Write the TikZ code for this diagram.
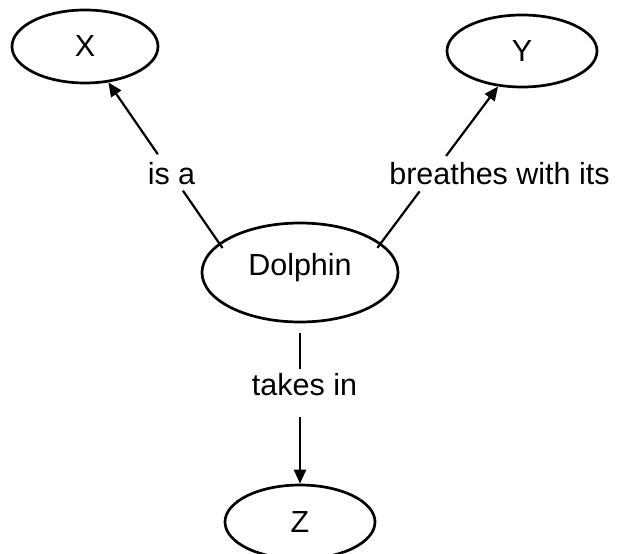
\documentclass[tikz,border=0pt]{standalone}
\usepackage{fontspec}
\setmainfont{Liberation Sans}
\usetikzlibrary{shapes.geometric,arrows.meta,calc}
\tikzset{
  concept/.style={draw=black, ellipse, line width=2.7pt, inner sep=0pt},
  conn/.style={draw=black, line width=2.2pt},
  arr/.style={conn, -{Triangle[length=14pt,width=12pt]}},
  lbl/.style={inner sep=0pt, anchor=base}
}
\begin{document}
\begin{tikzpicture}[x=1pt,y=1pt,font=\fontsize{30.5}{36}\selectfont]
\useasboundingbox (0,0) rectangle (617,-553);
% concept nodes
\node[concept, minimum width=146pt, minimum height=73pt] (x) at (85,-46.5) {X};
\node[concept, minimum width=150pt, minimum height=72pt] (y) at (522,-51) {Y};
\node[concept, minimum width=196pt, minimum height=99pt, text height=21.8pt, text depth=16.8pt] (dolphin) at (300,-272.5) {Dolphin};
\node[concept, minimum width=150pt, minimum height=74pt] (z) at (300,-522) {Z};
% link labels
\node[lbl] (isa) at (171.5,-185) {is a};
\node[lbl] (breathes) at (499.5,-185) {breathes with its};
\node[lbl] (takes) at (304.5,-395) {takes in};
% break points of the connectors around their labels
\coordinate (isaLow) at ($(dolphin.160)!0.326!(x.-57)$);
\coordinate (isaHigh) at ($(dolphin.160)!0.553!(x.-57)$);
\coordinate (brLow) at ($(dolphin.20.5)!0.33!(y.236)$);
\coordinate (brHigh) at ($(dolphin.20.5)!0.556!(y.236)$);
\coordinate (tkTop) at ($(dolphin.south)!0.282!(z.north)$);
\coordinate (tkBot) at ($(dolphin.south)!0.583!(z.north)$);
% connectors
\draw[conn, shorten <=-6pt] (dolphin.160) -- (isaLow);
\draw[arr] (isaHigh) -- (x.-57);
\draw[conn, shorten <=-6pt] (dolphin.20.5) -- (brLow);
\draw[arr] (brHigh) -- (y.236);
\draw[conn, shorten <=10pt] (dolphin.south) -- (tkTop);
\draw[arr] (tkBot) -- (z.north);
\end{tikzpicture}
\end{document}
